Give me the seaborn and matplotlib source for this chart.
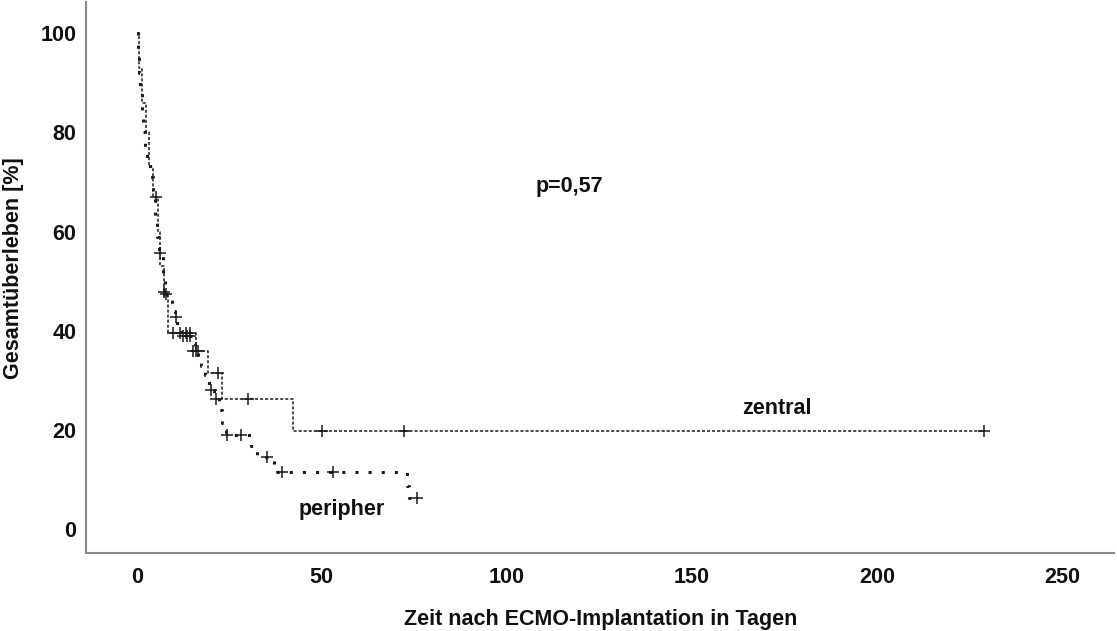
import matplotlib
matplotlib.use("Agg")
import matplotlib.pyplot as plt
import seaborn as sns
import pandas as pd

# ---- data ----
peri_t = [0, 0.3, 0.6, 1.0, 1.3, 1.8, 2.3, 2.8, 3.5, 4.5, 5.0, 5.6, 6.0, 7.2, 7.6,
          9.5, 10.3, 11.0, 12.0, 15.0, 15.7, 16.5, 17.5, 18.5, 19.5, 20.5, 21.0,
          22.3, 23.0, 24.0, 31.0, 32.5, 37.0, 73.0, 73.5, 76.0]
peri_s = [100, 96, 92, 88, 84, 80, 77, 74, 71, 67.5, 63, 59, 55.5, 51, 47.5,
          44, 42.5, 40.5, 39, 37.5, 36, 34.5, 33, 31, 29, 28, 26.2,
          24, 21.5, 19, 16.8, 14.6, 11.5, 8.8, 6.2, 6.2]
peri_cens_t = [6.2, 7.3, 8.0, 10.5, 12.5, 13.5, 14.5, 15.2, 16.0, 20.1, 21.3,
               24.4, 28.2, 35.2, 39.3, 53.0, 75.7]
peri_cens_s = [55.6, 47.8, 47.5, 42.7, 39, 39, 39, 36, 36, 28, 26.2,
               19, 19, 14.6, 11.5, 11.5, 6.2]

zent_t = [0, 0.5, 1.5, 2.5, 3.3, 4.5, 5.7, 6.2, 7.5, 8.5, 16.0, 19.4, 23.1, 42.3, 229.0]
zent_s = [100, 93, 86, 80, 73, 67, 60, 53, 47, 39.6, 36, 31.4, 26.2, 19.8, 19.8]
zent_cens_t = [5.3, 9.8, 11.8, 13.3, 14.5, 16.6, 22.1, 30.2, 50.0, 72.2, 229.0]
zent_cens_s = [67, 39.6, 39.6, 39.6, 39.6, 36, 31.4, 26.2, 19.8, 19.8, 19.8]

x_ticks = [0, 50, 100, 150, 200, 250]
y_ticks = [0, 20, 40, 60, 80, 100]

sns.set_theme(style="white")
plt.rcParams['font.family'] = ['Liberation Sans', 'DejaVu Sans']

FS = 15.5
TXT = "#111111"

fig = plt.figure(figsize=(11.17, 6.31), dpi=100)
ax = fig.add_axes([86/1117, 1-553/631, (1114-86)/1117, (553-2)/631])

ink = "#1a1a1a"
dfp = pd.DataFrame({"t": peri_t, "s": peri_s})
dfz = pd.DataFrame({"t": zent_t, "s": zent_s})

sns.lineplot(data=dfz, x="t", y="s", ax=ax, estimator=None, sort=False,
             drawstyle="steps-post", color=ink, lw=1.1,
             dashes=False, linestyle=(0, (2.0, 1.3)))
sns.lineplot(data=dfp, x="t", y="s", ax=ax, estimator=None, sort=False,
             drawstyle="steps-post", color=ink, lw=2.2,
             dashes=False, linestyle=(0, (1.0, 3.3)), solid_capstyle="butt")

sns.scatterplot(x=zent_cens_t, y=zent_cens_s, ax=ax, marker="+", s=75,
                color=ink, linewidth=1.1, zorder=5)
sns.scatterplot(x=peri_cens_t, y=peri_cens_s, ax=ax, marker="+", s=75,
                color=ink, linewidth=1.1, zorder=5)

ax.set_xlim(-13.7, 264.1)
ax.set_ylim(-4.8, 106.3)
ax.set_xticks(x_ticks)
ax.set_yticks(y_ticks)
ax.tick_params(axis="both", length=0, labelsize=FS, colors=TXT)
ax.tick_params(axis="x", pad=10)
ax.tick_params(axis="y", pad=7)
for lab in ax.get_xticklabels() + ax.get_yticklabels():
    lab.set_fontweight("bold")
for s in ["top", "right"]:
    ax.spines[s].set_visible(False)
for s in ["left", "bottom"]:
    ax.spines[s].set_color("#888888")
    ax.spines[s].set_linewidth(1.5)

ax.set_xlabel("Zeit nach ECMO-Implantation in Tagen", fontsize=FS,
              fontweight="bold", color=TXT, va="center")
ax.set_ylabel("Gesamtüberleben [%]", fontsize=FS, fontweight="bold",
              color=TXT, va="center")
ax.xaxis.set_label_coords(601/1117, 1-620/631, transform=fig.transFigure)
ax.yaxis.set_label_coords(14/1117, 1-268/631, transform=fig.transFigure)

ax.text(117, 69, "p=0,57", fontsize=FS, fontweight="bold", ha="center", va="center", color=TXT)
ax.text(173, 24.4, "zentral", fontsize=FS, fontweight="bold", ha="center", va="center", color=TXT)
ax.text(55.3, 4.0, "peripher", fontsize=FS, fontweight="bold", ha="center", va="center", color=TXT)

fig.savefig("out.png", dpi=100)
